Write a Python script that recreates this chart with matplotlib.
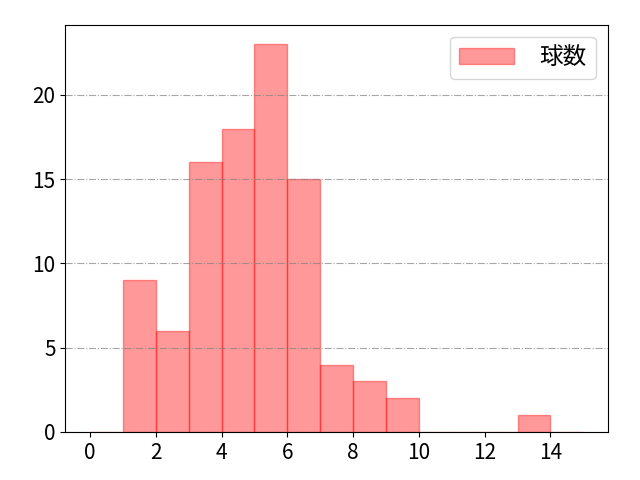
import numpy as np
import matplotlib
matplotlib.use("Agg")
import matplotlib.pyplot as plt

plt.rcParams['font.family'] = ['Noto Sans CJK JP', 'DejaVu Sans']

# histogram bins (width 1) and counts
bin_edges = list(range(0, 16))
counts = [0, 9, 6, 16, 18, 23, 15, 4, 3, 2, 0, 0, 0, 1, 0]
label = "球数"

fig, ax = plt.subplots(figsize=(6.4, 4.8), dpi=100)
centers = np.array(bin_edges[:-1]) + 0.5
ax.hist(centers, bins=bin_edges, weights=counts, color='red', alpha=0.4,
        edgecolor='red', label=label)
ax.grid(axis='y', linestyle='-.', color='gray', alpha=0.7)
ax.set_axisbelow(False)
ax.set_xticks(range(0, 16, 2))
ax.set_yticks([0, 5, 10, 15, 20])
ax.tick_params(labelsize=15)
ax.legend(fontsize=17, handlelength=2.3, handletextpad=1.1)
fig.subplots_adjust(left=0.102, right=0.95, top=0.948, bottom=0.1)
fig.savefig("out.png")
